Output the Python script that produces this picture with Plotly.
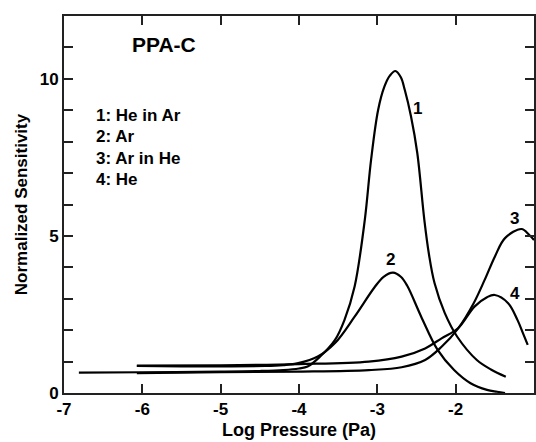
import plotly.graph_objects as go

# Log pressure (Pa) and normalized sensitivity for each gas configuration
he_in_ar_x = [-6.81, -6.0, -5.0, -4.5, -4.2, -4.0, -3.89, -3.73, -3.54, -3.42, -3.29, -3.16, -3.08,
              -2.99, -2.91, -2.84, -2.77, -2.70, -2.65, -2.57, -2.49, -2.40, -2.34, -2.27, -2.14,
              -1.98, -1.73, -1.55, -1.36]
he_in_ar_y = [0.65, 0.66, 0.68, 0.70, 0.73, 0.78, 0.84, 1.16, 1.69, 2.32, 3.39, 5.51, 7.42,
              9.01, 9.75, 10.10, 10.25, 10.05, 9.65, 8.80, 7.64, 5.51, 4.40, 3.50, 2.55,
              1.79, 1.05, 0.75, 0.52]

ar_x = [-6.07, -5.5, -5.0, -4.43, -4.2, -4.01, -3.76, -3.54, -3.29, -3.04, -2.92, -2.80, -2.70,
        -2.62, -2.44, -2.23, -2.02, -1.81, -1.60, -1.47, -1.37]
ar_y = [0.86, 0.85, 0.85, 0.86, 0.89, 0.95, 1.16, 1.59, 2.43, 3.35, 3.70, 3.83, 3.70,
        3.42, 2.43, 1.37, 0.73, 0.31, 0.10, 0.04, 0.0]

ar_in_he_x = [-6.07, -5.0, -4.0, -3.11, -2.69, -2.39, -2.18, -1.97, -1.77, -1.63, -1.50, -1.37,
              -1.16, -1.06, -1.0]
ar_in_he_y = [0.63, 0.66, 0.68, 0.73, 0.82, 1.05, 1.47, 2.05, 2.86, 3.60, 4.34, 4.93,
              5.22, 5.03, 4.87]

he_x = [-6.07, -5.0, -4.0, -3.11, -2.69, -2.39, -2.18, -1.97, -1.76, -1.60, -1.50, -1.33,
        -1.21, -1.14, -1.08]
he_y = [0.87, 0.88, 0.92, 1.0, 1.16, 1.42, 1.74, 2.06, 2.75, 3.05, 3.12, 2.86,
        2.32, 1.90, 1.53]

# Curve number labels placed next to each curve
curve_labels = ["1", "2", "3", "4"]
curve_label_x = [-2.49, -2.83, -1.25, -1.24]
curve_label_y = [9.05, 4.24, 5.57, 3.17]

# Key listing what each number means
key_lines = ["1: He in Ar", "2: Ar", "3: Ar in He", "4: He"]
key_y = [8.82, 8.15, 7.48, 6.78]

x_ticks = [-7, -6, -5, -4, -3, -2, -1]
y_ticks = list(range(0, 12))
y_tick_text = ["0", "", "", "", "", "5", "", "", "", "", "10", ""]

FONT = "Liberation Sans, Arial, Helvetica, sans-serif"

fig = go.Figure()
for xs, ys in [(he_in_ar_x, he_in_ar_y), (ar_x, ar_y), (ar_in_he_x, ar_in_he_y), (he_x, he_y)]:
    fig.add_trace(go.Scatter(x=xs, y=ys, mode="lines",
                             line=dict(color="black", width=2.2, shape="spline", smoothing=1.0),
                             showlegend=False, hoverinfo="skip"))

for t, x, y in zip(curve_labels, curve_label_x, curve_label_y):
    fig.add_annotation(x=x, y=y, text=t, showarrow=False,
                       font=dict(family=FONT, size=17, color="black", weight="bold"))

for t, y in zip(key_lines, key_y):
    fig.add_annotation(x=-6.62, y=y, text=t, showarrow=False, xanchor="left",
                       font=dict(family=FONT, size=17, color="black", weight="bold"))

fig.add_annotation(x=-5.72, y=11.08, text="PPA-C", showarrow=False,
                   font=dict(family=FONT, size=21, color="black", weight="bold"))

axis_common = dict(showgrid=False, zeroline=False, showline=True, linecolor="#222",
                   linewidth=2, mirror="ticks", ticks="inside", ticklen=9, tickwidth=1.5,
                   tickcolor="#222",
                   tickfont=dict(family=FONT, size=17, color="black", weight="bold"))

fig.update_xaxes(range=[-7, -1], tickvals=x_ticks, ticktext=[str(v) for v in x_ticks],
                 title=dict(text="Log Pressure (Pa)", standoff=5,
                            font=dict(family=FONT, size=18, color="black", weight="bold")),
                 **axis_common)
fig.update_yaxes(range=[0, 12], tickvals=y_ticks, ticktext=y_tick_text,
                 title=dict(text="Normalized Sensitivity", standoff=8,
                            font=dict(family=FONT, size=17, color="black", weight="bold")),
                 **axis_common)

fig.update_layout(width=536, height=442, margin=dict(l=64, r=0, t=16, b=49),
                  plot_bgcolor="white", paper_bgcolor="white")

fig.write_html("out.html")
